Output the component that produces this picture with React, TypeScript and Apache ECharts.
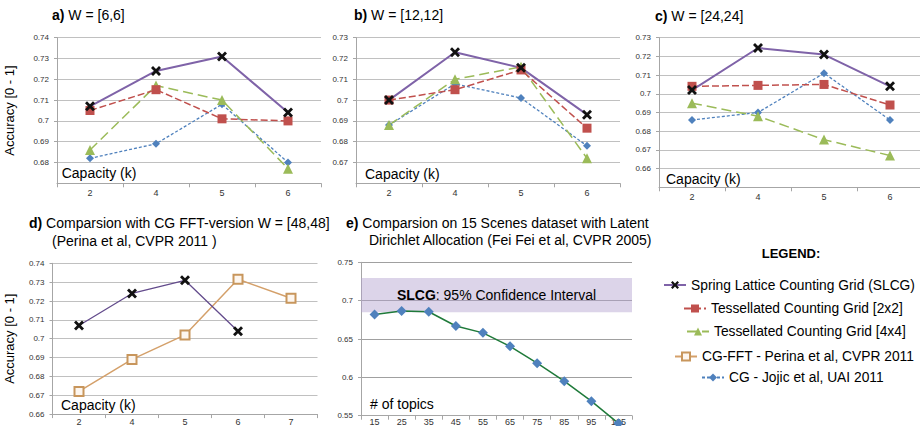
import React, { useEffect, useRef } from "react";
import * as echarts from "echarts";

// ---------- data ----------
const capCats = ["2", "4", "5", "6"];
const capCatsD = ["2", "4", "5", "6", "7"];
const topicCats = ["15", "25", "35", "45", "55", "65", "75", "85", "95", "105"];

const N_SLCG = "Spring Lattice Counting Grid (SLCG)";
const N_TCG2 = "Tessellated Counting Grid [2x2]";
const N_TCG4 = "Tessellated Counting Grid [4x4]";
const N_FFT = "CG-FFT - Perina et al, CVPR 2011";
const N_CG = "CG - Jojic et al, UAI 2011";
const N_LDA = "LDA - Fei Fei et al, CVPR 2005";

const aSLCG = [0.707, 0.724, 0.731, 0.704];
const aTCG2 = [0.705, 0.715, 0.701, 0.7];
const aTCG4 = [0.686, 0.717, 0.71, 0.677];
const aCG = [0.682, 0.689, 0.708, 0.68];

const bSLCG = [0.7, 0.723, 0.7155, 0.693];
const bTCG2 = [0.7, 0.705, 0.7145, 0.6865];
const bTCG4 = [0.688, 0.71, 0.716, 0.672];
const bCG = [0.688, 0.7078, 0.701, 0.678];

const cSLCG = [0.702, 0.7245, 0.721, 0.704];
const cTCG2 = [0.704, 0.7045, 0.705, 0.694];
const cTCG4 = [0.695, 0.688, 0.6755, 0.667];
const cCG = [0.686, 0.69, 0.711, 0.686];

const dSLCG = [0.707, 0.724, 0.731, 0.704, null];
const dFFT = [0.672, 0.689, 0.702, 0.7315, 0.7215];

const eLDA = [0.682, 0.6865, 0.6855, 0.667, 0.658, 0.6405, 0.6185, 0.595, 0.569, 0.54];
const slcgConfidence = [0.685, 0.7295];

// axis ranges [min, max, interval]
const yRangeA = [0.67, 0.74, 0.01];
const yRangeB = [0.66, 0.73, 0.01];
const yRangeC = [0.65, 0.73, 0.01];
const yRangeD = [0.66, 0.74, 0.01];
const yRangeE = [0.55, 0.75, 0.05];

// ---------- styles ----------
const FONT = "Liberation Sans, Arial, Helvetica, sans-serif";
const X_PATH = "path://M0,2L2,0L5,3L8,0L10,2L7,5L10,8L8,10L5,7L2,10L0,8L3,5Z";

const styles: Record<string, any> = {
  slcg: { lineStyle: { color: "#7f63a8", width: 2 }, symbol: X_PATH, symbolSize: 10, itemStyle: { color: "#111" } },
  slcgD: { lineStyle: { color: "#634b8c", width: 1.3 }, symbol: X_PATH, symbolSize: 10, itemStyle: { color: "#111" } },
  tcg2: { lineStyle: { color: "#c0504d", width: 1.5, type: [7, 3] }, symbol: "rect", symbolSize: 9, itemStyle: { color: "#c0504d" } },
  tcg4: { lineStyle: { color: "#9bbb59", width: 1.5, type: [10, 5] }, symbol: "triangle", symbolSize: 10, itemStyle: { color: "#9bbb59" } },
  cg: { lineStyle: { color: "#4f81bd", width: 1.3, type: [3, 2] }, symbol: "diamond", symbolSize: 8, itemStyle: { color: "#4f81bd" } },
  fft: { lineStyle: { color: "#d4a06a", width: 1.5 }, symbol: "rect", symbolSize: 9, itemStyle: { color: "#fdf6ef", borderColor: "#c8965c", borderWidth: 2 } },
  lda: { lineStyle: { color: "#1f7a3a", width: 1.5 }, symbol: "diamond", symbolSize: 10, itemStyle: { color: "#4f81bd" } },
};

const grids = [
  { left: 57, top: 37.7, width: 264, height: 145.6 },
  { left: 356, top: 37.7, width: 264, height: 145.6 },
  { left: 659, top: 37.7, width: 264, height: 149.6 },
  { left: 52.5, top: 263.3, width: 265, height: 150.8 },
  { left: 361, top: 262.3, width: 271, height: 153.4 },
];

function xAxisOf(gi: number, cats: string[], margin = 5) {
  return {
    type: "category",
    gridIndex: gi,
    data: cats,
    boundaryGap: true,
    axisLine: { show: true, lineStyle: { color: "#a6a6a6", width: 1 } },
    axisTick: { show: true, length: 4, lineStyle: { color: "#a6a6a6" } },
    axisLabel: { fontSize: 9, lineHeight: 9, color: "#333", margin, interval: 0, fontFamily: FONT },
    splitLine: { show: false },
  };
}

function yAxisOf(gi: number, r: number[], showMin: boolean, name?: string, nameGap?: number, gridColor = "#c0c0c0") {
  return {
    type: "value",
    gridIndex: gi,
    min: r[0],
    max: r[1],
    interval: r[2],
    name: name || "",
    nameLocation: "middle",
    nameGap: nameGap || 0,
    nameTextStyle: { fontSize: 13, color: "#000", fontFamily: FONT },
    axisLine: { show: true, lineStyle: { color: "#a6a6a6" } },
    axisTick: { show: true, length: 3, lineStyle: { color: "#a6a6a6" } },
    axisLabel: {
      fontSize: 8,
      color: "#333",
      margin: 8,
      showMinLabel: showMin,
      fontFamily: FONT,
      formatter: (v: number) => String(+v.toFixed(2)),
    },
    splitLine: { show: true, lineStyle: { color: gridColor, width: 1 } },
  };
}

function lineSeries(name: string, gi: number, data: any[], style: any, extra: any = {}) {
  return {
    type: "line",
    name,
    xAxisIndex: gi,
    yAxisIndex: gi,
    data,
    ...style,
    showAllSymbol: true,
    connectNulls: false,
    emphasis: { disabled: true },
    ...extra,
  };
}

function txt(x: number, y: number, text: string, size = 14, extra: any = {}) {
  return {
    type: "text",
    x,
    y,
    silent: true,
    style: {
      text,
      fontSize: size,
      fontFamily: FONT,
      fill: "#000",
      verticalAlign: "middle",
      rich: { b: { fontWeight: "bold", fontSize: size, fontFamily: FONT, fill: "#000" } },
      ...extra,
    },
  };
}

function legendOf(name: string, left: number, top: number) {
  return {
    data: [name],
    left,
    top,
    padding: 0,
    itemWidth: 22,
    itemHeight: 10,
    itemGap: 0,
    selectedMode: false,
    textStyle: { fontSize: 13.8, color: "#000", fontFamily: FONT },
  };
}

export default function App() {
  const ref = useRef<HTMLDivElement>(null);

  useEffect(() => {
    if (!ref.current) return;
    const chart = echarts.init(ref.current, undefined, { renderer: "svg" });

    const option: any = {
      animation: false,
      backgroundColor: "#fff",
      textStyle: { fontFamily: FONT },
      grid: grids.map((g) => ({ ...g, containLabel: false, outerBoundsMode: "none" })),
      xAxis: [
        xAxisOf(0, capCats),
        xAxisOf(1, capCats),
        xAxisOf(2, capCats),
        xAxisOf(3, capCatsD, 3),
        xAxisOf(4, topicCats, 2),
      ],
      yAxis: [
        yAxisOf(0, yRangeA, false, "Accuracy [0 - 1]", 41),
        yAxisOf(1, yRangeB, false),
        yAxisOf(2, yRangeC, false),
        yAxisOf(3, yRangeD, true, "Accuracy [0 - 1]", 36.5),
        yAxisOf(4, yRangeE, true, "", 0, "#a0a0a0"),
      ],
      legend: [
        legendOf(N_SLCG, 663, 278),
        legendOf(N_TCG2, 683, 301.5),
        legendOf(N_TCG4, 686, 324.5),
        legendOf(N_FFT, 674, 349.5),
        legendOf(N_CG, 701, 370.5),
      ],
      series: [
        lineSeries(N_CG, 0, aCG, styles.cg),
        lineSeries(N_TCG4, 0, aTCG4, styles.tcg4),
        lineSeries(N_TCG2, 0, aTCG2, styles.tcg2),
        lineSeries(N_SLCG, 0, aSLCG, styles.slcg),
        lineSeries(N_CG, 1, bCG, styles.cg),
        lineSeries(N_TCG4, 1, bTCG4, styles.tcg4),
        lineSeries(N_TCG2, 1, bTCG2, styles.tcg2),
        lineSeries(N_SLCG, 1, bSLCG, styles.slcg),
        lineSeries(N_CG, 2, cCG, styles.cg),
        lineSeries(N_TCG4, 2, cTCG4, styles.tcg4),
        lineSeries(N_TCG2, 2, cTCG2, styles.tcg2),
        lineSeries(N_SLCG, 2, cSLCG, styles.slcg),
        lineSeries(N_FFT, 3, dFFT, styles.fft),
        lineSeries(N_SLCG, 3, dSLCG, styles.slcgD),
        lineSeries(N_LDA, 4, eLDA, styles.lda, {
          clip: false,
          markArea: {
            silent: true,
            itemStyle: { color: "rgba(178,160,207,0.45)" },
            label: {
              show: true,
              position: "inside",
              formatter: "{b|SLCG}: 95% Confidence Interval",
              fontSize: 14,
              color: "#000",
              fontFamily: FONT,
              rich: { b: { fontWeight: "bold", fontSize: 14, color: "#000", fontFamily: FONT } },
            },
            data: [[{ yAxis: slcgConfidence[0] }, { yAxis: slcgConfidence[1] }]],
          },
        }),
      ],
      graphic: [
        txt(52, 15, "{b|a)} W = [6,6]"),
        txt(354, 15, "{b|b)} W = [12,12]"),
        txt(655, 16, "{b|c)} W = [24,24]"),
        txt(29, 222.7, "{b|d)} Comparsion with CG FFT-version W = [48,48]"),
        txt(52, 240.7, "(Perina et al, CVPR 2011 )"),
        txt(346, 222.7, "{b|e)} Comparsion on 15 Scenes dataset with Latent"),
        txt(369, 240, "Dirichlet Allocation (Fei Fei et al, CVPR 2005)"),
        txt(61.7, 173.3, "Capacity (k)"),
        txt(365, 173.5, "Capacity (k)"),
        txt(666, 178.7, "Capacity (k)"),
        txt(61, 405, "Capacity (k)"),
        txt(370, 404, "# of topics"),
        txt(791, 253.3, "LEGEND:", 13, { fontWeight: "bold", align: "center" }),
      ],
    };

    chart.setOption(option);
    return () => chart.dispose();
  }, []);

  return (
    <div
      ref={ref}
      style={{ position: "fixed", left: 0, top: 0, width: 920, height: 426, background: "#fff" }}
    />
  );
}
